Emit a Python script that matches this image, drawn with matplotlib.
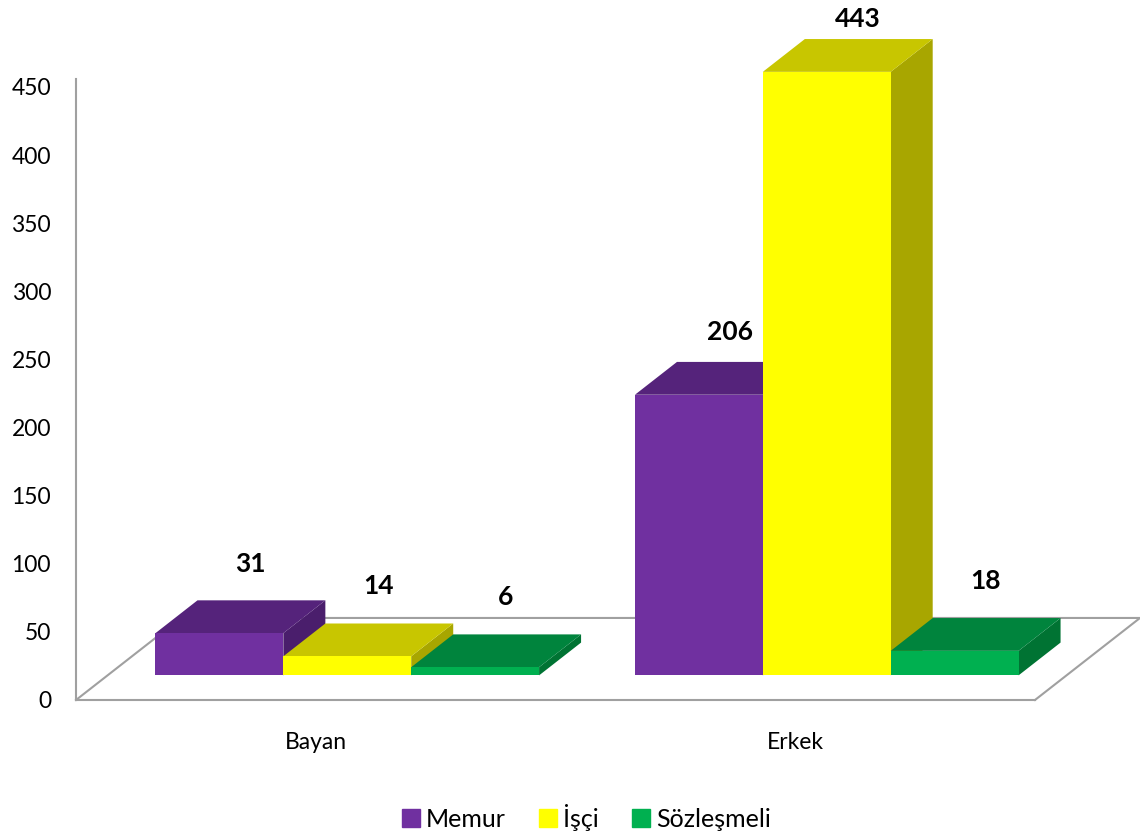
import matplotlib
matplotlib.use("Agg")
import matplotlib.pyplot as plt
from matplotlib.patches import Polygon
from matplotlib.lines import Line2D

plt.rcParams['font.family'] = ['Lato', 'DejaVu Sans']

categories = ["Bayan", "Erkek"]
series = ["Memur", "İşçi", "Sözleşmeli"]
memur = [31, 206]
isci = [14, 443]
sozlesmeli = [6, 18]
values = [memur, isci, sozlesmeli]
yticks = list(range(0, 451, 50))

front_colors = ['#7030A0', '#FFFF00', '#00B050']
top_colors = ['#55237B', '#C8C600', '#00843D']
side_colors = ['#4A1E6C', '#A8A600', '#007333']
grid_col = '#A0A0A0'

fig = plt.figure(figsize=(11.4, 8.35), dpi=100)
ax = fig.add_axes([0.0667, 0.1617, 0.8412, 0.7440])
ax.set_xlim(0, 2)
ax.set_ylim(0, 456)

# fake 3d: depth direction of the floor (data units) and where the bars sit in it
ddx, ddy = 0.219, 60.2
f0, f1 = 0.30, 0.70
bar_w = 0.8 / 3
gap = 0.1
dd = (f1 - f0) * ddx
dy = (f1 - f0) * ddy

# floor outline
ax.plot([0, ddx, 2 + ddx, 2], [0, ddy, ddy, 0], color=grid_col, lw=1.5,
        clip_on=False, zorder=1)

z = 2
for i in range(len(categories)):
    for j, vals in enumerate(values):
        v = vals[i]
        x0 = i + gap + j * bar_w + f0 * ddx
        base = f0 * ddy
        top = base + v
        side = Polygon([(x0 + bar_w, base), (x0 + bar_w, top),
                        (x0 + bar_w + dd, top + dy), (x0 + bar_w + dd, base + dy)],
                       closed=True, facecolor=side_colors[j], edgecolor='none',
                       clip_on=False, zorder=z)
        topf = Polygon([(x0, top), (x0 + bar_w, top),
                        (x0 + bar_w + dd, top + dy), (x0 + dd, top + dy)],
                       closed=True, facecolor=top_colors[j], edgecolor='none',
                       clip_on=False, zorder=z)
        front = Polygon([(x0, base), (x0 + bar_w, base), (x0 + bar_w, top), (x0, top)],
                        closed=True, facecolor=front_colors[j], edgecolor='none',
                        clip_on=False, zorder=z + 1)
        ax.add_patch(side)
        ax.add_patch(topf)
        ax.add_patch(front)
        z += 2
        off = (38 - 0.04 * v) * 72 / fig.dpi
        ax.annotate(str(v), xy=(x0 + bar_w / 2 + dd / 2, top + dy),
                    xytext=(7, off), textcoords='offset points',
                    ha='center', va='center', fontsize=19, fontweight='bold',
                    annotation_clip=False, zorder=50)

for s in ['top', 'right']:
    ax.spines[s].set_visible(False)
for s in ['left', 'bottom']:
    ax.spines[s].set_color(grid_col)
    ax.spines[s].set_linewidth(1.5)

ax.set_yticks(yticks)
ax.set_xticks([0.5, 1.5])
ax.set_xticklabels(categories)
ax.tick_params(axis='y', length=0, pad=18, labelsize=16.5)
ax.tick_params(axis='x', length=0, pad=23, labelsize=16.5)

handles = [Line2D([], [], marker='s', ls='', markersize=13,
                  markerfacecolor=c, markeredgecolor=c) for c in front_colors]
fig.legend(handles, series, loc='center', bbox_to_anchor=(0.514, 0.021), ncol=3,
           frameon=False, fontsize=18, handletextpad=0.2, columnspacing=1.3,
           handlelength=0.8)

plt.savefig("out.png", dpi=100)
